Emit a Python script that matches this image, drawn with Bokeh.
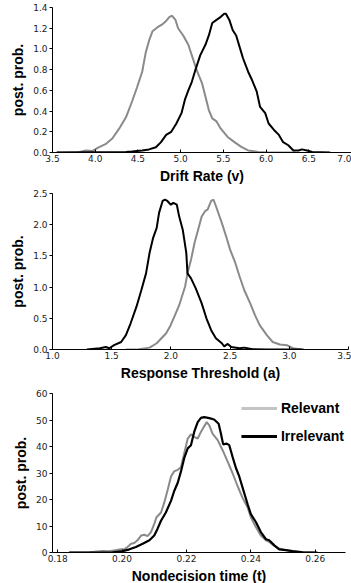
from bokeh.plotting import figure
from bokeh.layouts import column
from bokeh.models import Legend, LegendItem, FixedTicker, PrintfTickFormatter, Range1d
from bokeh.embed import file_html
from bokeh.resources import INLINE

# ---------------- data ----------------
# Panel 1: Drift Rate (v)
v_rel_x = [3.55, 3.8, 3.89, 3.97, 4.04, 4.12, 4.2, 4.28, 4.36, 4.43, 4.49, 4.55, 4.59, 4.63, 4.67,
           4.73, 4.79, 4.83, 4.87, 4.90, 4.94, 4.97, 5.03, 5.09, 5.13, 5.19, 5.25, 5.29, 5.33,
           5.37, 5.42, 5.47, 5.55, 5.63, 5.71, 5.79, 5.91, 6.03, 6.34]
v_rel_y = [0.0, 0.0, 0.02, 0.015, 0.05, 0.08, 0.135, 0.23, 0.34, 0.49, 0.63, 0.78, 0.96, 1.08, 1.17,
           1.21, 1.24, 1.27, 1.31, 1.32, 1.28, 1.20, 1.13, 1.04, 0.94, 0.79, 0.67, 0.54, 0.41,
           0.33, 0.30, 0.23, 0.15, 0.10, 0.055, 0.02, 0.006, 0.0, 0.0]
v_irr_x = [3.55, 4.36, 4.43, 4.55, 4.63, 4.71, 4.77, 4.83, 4.89, 4.95, 5.01, 5.05, 5.09, 5.13, 5.17,
           5.23, 5.29, 5.33, 5.37, 5.42, 5.47, 5.51, 5.53, 5.57, 5.61, 5.65, 5.69, 5.73, 5.79,
           5.83, 5.89, 5.93, 5.99, 6.03, 6.09, 6.15, 6.20, 6.26, 6.32, 6.38, 6.42, 6.48, 6.54, 6.75]
v_irr_y = [0.0, 0.005, 0.01, 0.02, 0.03, 0.05, 0.10, 0.17, 0.20, 0.28, 0.38, 0.51, 0.60, 0.68, 0.79,
           0.94, 1.04, 1.13, 1.25, 1.28, 1.31, 1.34, 1.34, 1.28, 1.18, 1.13, 1.02, 0.91, 0.78,
           0.71, 0.59, 0.44, 0.38, 0.28, 0.22, 0.17, 0.10, 0.07, 0.02, 0.02, 0.03, 0.02, 0.005, 0.0]

# Panel 2: Response Threshold (a)
a_irr_x = [1.29, 1.40, 1.45, 1.48, 1.52, 1.58, 1.62, 1.66, 1.71, 1.75, 1.79, 1.82, 1.85, 1.88, 1.90,
           1.93, 1.95, 1.97, 2.00, 2.02, 2.05, 2.07, 2.10, 2.13, 2.14, 2.17, 2.21, 2.26, 2.30,
           2.34, 2.38, 2.43, 2.45, 2.48, 2.51, 2.58, 2.62, 2.69, 2.81, 3.12]
a_irr_y = [0.0, 0.02, 0.04, 0.02, 0.07, 0.12, 0.23, 0.42, 0.69, 0.95, 1.22, 1.55, 1.79, 1.95, 2.19,
           2.38, 2.40, 2.38, 2.32, 2.35, 2.32, 2.13, 1.92, 1.55, 1.22, 1.14, 0.98, 0.74, 0.50,
           0.31, 0.18, 0.10, 0.05, 0.09, 0.04, 0.02, 0.03, 0.005, 0.0, 0.0]
a_rel_x = [1.62, 1.73, 1.82, 1.88, 1.92, 1.96, 1.99, 2.03, 2.07, 2.12, 2.14, 2.17, 2.20, 2.23, 2.26,
           2.29, 2.31, 2.34, 2.36, 2.38, 2.43, 2.47, 2.50, 2.54, 2.58, 2.62, 2.67, 2.71, 2.75,
           2.81, 2.86, 2.92, 2.98, 3.03, 3.10]
a_rel_y = [0.0, 0.005, 0.03, 0.10, 0.18, 0.26, 0.36, 0.53, 0.71, 1.01, 1.22, 1.44, 1.71, 1.92, 2.13,
           2.22, 2.24, 2.38, 2.40, 2.30, 2.03, 1.79, 1.60, 1.41, 1.17, 0.95, 0.74, 0.55, 0.39,
           0.23, 0.12, 0.08, 0.07, 0.02, 0.0]

# Panel 3: Nondecision time (t)
t_rel_x = [0.1836, 0.1898, 0.194, 0.196, 0.198, 0.1997, 0.2007, 0.2017, 0.2028, 0.2038, 0.2048,
           0.2059, 0.2069, 0.2079, 0.209, 0.21, 0.2107, 0.2121, 0.2131, 0.2142, 0.2152, 0.2162,
           0.2173, 0.2183, 0.2193, 0.2204, 0.2214, 0.2224, 0.2235, 0.2245, 0.2255, 0.2263,
           0.2271, 0.2281, 0.2297, 0.2312, 0.2328, 0.2343, 0.2359, 0.2374, 0.239, 0.24, 0.2416,
           0.2431, 0.2447, 0.2457, 0.2473, 0.2488, 0.2509, 0.253, 0.2561, 0.2602]
t_rel_y = [0.0, 0.1, 0.6, 0.5, 0.9, 1.2, 1.2, 2.1, 3.3, 3.6, 4.6,
           6.4, 6.7, 6.2, 7.7, 10.8, 13.3, 15.1, 18.8, 23.8, 28.7, 30.6,
           31.2, 32.2, 37.4, 43.0, 44.6, 43.6, 43.0, 45.5, 47.6, 49.2,
           48.0, 44.9, 42.4, 38.7, 34.3, 30.0, 25.0, 20.7, 17.0, 13.3, 9.5,
           6.4, 4.6, 4.0, 2.5, 1.5, 0.9, 0.4, 0.2, 0.0]
t_irr_x = [0.1836, 0.197, 0.2002, 0.2023, 0.2043, 0.2064, 0.2085, 0.21, 0.211, 0.2121, 0.2136,
           0.2152, 0.2162, 0.2173, 0.2183, 0.2193, 0.2204, 0.2214, 0.2224, 0.2235, 0.2245,
           0.2255, 0.2271, 0.2286, 0.23, 0.2307, 0.2314, 0.2325, 0.2333, 0.2343, 0.2354,
           0.2364, 0.2376, 0.239, 0.24, 0.2416, 0.2431, 0.2447, 0.2457, 0.2473, 0.2488,
           0.2509, 0.253, 0.2561, 0.2607]
t_irr_y = [0.0, 0.1, 0.5, 1.2, 2.1, 3.3, 4.6, 6.4, 8.9, 12.0, 15.1,
           19.5, 23.2, 26.3, 30.6, 35.6, 39.3, 40.5, 45.5, 49.2, 50.8,
           51.1, 50.7, 50.2, 48.6, 44.9, 40.8, 41.1, 40.5, 36.2, 31.8,
           28.7, 23.8, 18.2, 14.5, 11.4, 7.7, 5.0, 4.6, 2.7, 1.2,
           0.9, 0.5, 0.1, 0.0]

v_xticks = [3.5, 4.0, 4.5, 5.0, 5.5, 6.0, 6.5, 7.0]
v_yticks = [0.0, 0.2, 0.4, 0.6, 0.8, 1.0, 1.2, 1.4]
a_xticks = [1.0, 1.5, 2.0, 2.5, 3.0, 3.5]
a_yticks = [0.0, 0.5, 1.0, 1.5, 2.0, 2.5]
t_xticks = [0.18, 0.20, 0.22, 0.24, 0.26]
t_yticks = [0, 10, 20, 30, 40, 50, 60]

series_names = ["Relevant", "Irrelevant"]
x_titles = ["Drift Rate (v)", "Response Threshold (a)", "Nondecision time (t)"]
y_title = "post. prob."

GRAY = "#8a8a8a"
BLACK = "#000000"
TITLE_FONT = "Liberation Sans"
TICK_FONT = "DejaVu Sans"


def make_fig(height, xr, yr, xticks, yticks, xfmt, yfmt, xtitle, left, top, bottom, right=3):
    p = figure(width=351, height=height, output_backend="svg", toolbar_location=None,
               x_range=Range1d(*xr), y_range=Range1d(*yr),
               min_border_left=left, min_border_right=right,
               min_border_top=top, min_border_bottom=bottom)
    p.frame_width = 351 - left - right
    p.frame_height = height - top - bottom
    p.outline_line_color = None
    p.grid.visible = False
    p.background_fill_color = "white"
    p.border_fill_color = "white"
    for ax, ticks, fmt in ((p.xaxis[0], xticks, xfmt), (p.yaxis[0], yticks, yfmt)):
        ax.ticker = FixedTicker(ticks=ticks, minor_ticks=[])
        ax.formatter = PrintfTickFormatter(format=fmt)
        ax.axis_line_color = "black"
        ax.axis_line_width = 1
        ax.major_tick_line_color = "black"
        ax.minor_tick_line_color = None
        ax.major_label_text_font = TICK_FONT
        ax.major_label_text_font_size = "9px"
        ax.major_label_text_color = "#222222"
        ax.axis_label_text_font = TITLE_FONT
        ax.axis_label_text_font_style = "bold"
        ax.axis_label_text_font_size = "14px"
        ax.axis_label_text_color = "black"
        ax.major_label_standoff = 2
    p.xaxis[0].major_tick_in = 3
    p.xaxis[0].major_tick_out = 0
    p.yaxis[0].major_tick_in = 0
    p.yaxis[0].major_tick_out = 3
    p.xaxis[0].axis_label = xtitle
    p.yaxis[0].axis_label = y_title
    p.xaxis[0].axis_label_standoff = 3
    p.yaxis[0].axis_label_standoff = 4
    return p


p1 = make_fig(185, (3.5, 7.0), (0, 1.4), v_xticks, v_yticks, "%.1f", "%.1f", x_titles[0],
              left=50, top=7, bottom=33, right=2)
p1.line(v_rel_x, v_rel_y, line_color=GRAY, line_width=2)
p1.line(v_irr_x, v_irr_y, line_color=BLACK, line_width=2)

p2 = make_fig(196, (1.0, 3.5), (0, 2.5), a_xticks, a_yticks, "%.1f", "%.1f", x_titles[1],
              left=52, top=7, bottom=33, right=3)
p2.line(a_rel_x, a_rel_y, line_color=GRAY, line_width=2)
p2.line(a_irr_x, a_irr_y, line_color=BLACK, line_width=2)

p3 = make_fig(202, (0.1784, 0.2694), (0, 60), t_xticks, t_yticks, "%.2f", "%d", x_titles[2],
              left=50, top=10, bottom=33, right=8)
p3.line(t_rel_x, t_rel_y, line_color=GRAY, line_width=2)
p3.line(t_irr_x, t_irr_y, line_color=BLACK, line_width=2.2)

# legend proxies (placed outside the visible x range so only the legend shows them)
leg_rel = p3.line([0.30, 0.31], [30, 30], line_color="#c4c4c4", line_width=3)
leg_irr = p3.line([0.30, 0.31], [30, 30], line_color=BLACK, line_width=3)
legend = Legend(items=[LegendItem(label=series_names[0], renderers=[leg_rel]),
                       LegendItem(label=series_names[1], renderers=[leg_irr])],
                location="top_right", margin=1, padding=2, spacing=0,
                glyph_width=36, glyph_height=28, label_height=28, label_standoff=4,
                label_text_font=TITLE_FONT, label_text_font_style="bold",
                label_text_font_size="14px", label_text_color="black",
                background_fill_alpha=0, border_line_color=None)
p3.add_layout(legend)

layout = column(p1, p2, p3, spacing=0)
open("out.html", "w").write(file_html(layout, INLINE))
